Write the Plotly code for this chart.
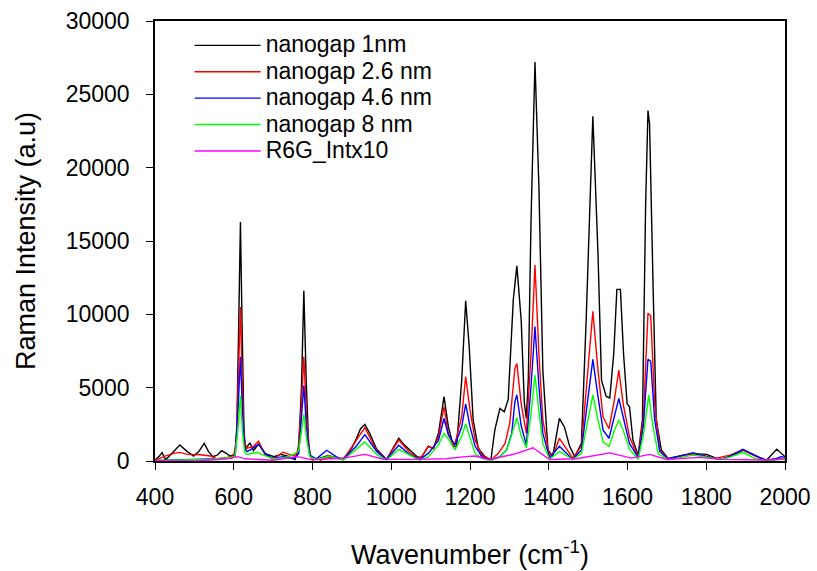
import plotly.graph_objects as go

# ---------------- data ----------------
x_1nm = [400, 410, 418, 427, 439, 463, 482, 498, 511, 525, 536, 547, 558, 569, 581, 591, 604,
         608, 613, 617, 621, 626, 630, 641, 650, 663, 680, 702, 719, 735, 756, 765, 772, 778, 784,
         790, 795, 810, 836, 844, 878, 900, 911, 922, 933, 945, 963, 988, 1005, 1019, 1033, 1046,
         1065, 1077, 1094, 1107, 1120, 1134, 1145, 1158, 1166, 1179, 1189, 1198, 1208, 1221, 1238,
         1253, 1263, 1276, 1287, 1297, 1305, 1310, 1319, 1330, 1338, 1343, 1348, 1355, 1365, 1375,
         1385, 1398, 1410, 1427, 1440, 1453, 1466, 1483, 1495, 1512, 1525, 1534, 1546, 1555, 1565,
         1573, 1582, 1590, 1599, 1605, 1614, 1627, 1638, 1646, 1652, 1656, 1665, 1673, 1686, 1703,
         1741, 1767, 1801, 1835, 1860, 1894, 1920, 1953, 1979, 2000]
y_1nm = [80, 300, 570, 80, 410, 1090, 640, 340, 640, 1200, 640, 300, 400, 700, 520, 340, 450,
         2500, 10000, 16300, 9500, 2000, 800, 1250, 700, 1150, 500, 290, 450, 340, 100, 1000, 5000, 11600, 5500,
         1200, 300, 100, 350, 340, 100, 900, 1500, 2200, 2500, 1900, 800, 100, 900, 1550, 1100, 800,
         300, 250, 1020, 850, 1890, 4390, 2340, 980, 1000, 5520, 10930, 7800, 2800, 860, 300,
         70, 2100, 3590, 3360, 4200, 8500, 11000, 13300, 9600, 4000, 2900, 5500, 16400, 27200, 18700,
         6200, 750, 300, 2900, 2300, 1000, 300, 1200, 9600, 23500, 14200, 5500, 4400, 4300, 7300,
         11700, 11700, 7300, 3900, 3700, 1400, 400, 2800, 17400, 23900, 23000, 11900, 2800, 750, 180,
         400, 500, 450, 100, 300, 750, 400, 60, 800, 300]

x_2p6nm = [400, 422, 448, 463, 482, 515, 541, 558, 583, 600, 607, 612, 617, 621, 626, 633, 651, 663,
           680, 700, 725, 751, 763, 770, 778, 785, 793, 807, 827, 844, 878, 911, 933, 963, 988, 1019,
           1046, 1072, 1094, 1107, 1120, 1134, 1145, 1160, 1179, 1189, 1200, 1213, 1230, 1253, 1272,
           1289, 1301, 1314, 1319, 1330, 1343, 1355, 1365, 1375, 1385, 1402, 1415, 1427, 1440, 1461,
           1483, 1500, 1512, 1525, 1538, 1553, 1565, 1578, 1589, 1605, 1627, 1640, 1652, 1659, 1669,
           1682, 1703, 1767, 1783, 1826, 1860, 1893, 1928, 1952, 1987, 2000]
y_2p6nm = [50, 300, 520, 590, 450, 430, 340, 150, 250, 340, 1500, 6000, 10500, 6000, 1500, 860, 1020, 1350,
           400, 130, 600, 350, 600, 3000, 7100, 3000, 400, -230, 150, 250, 100, 1400, 2270, 700, 100, 1430,
           600, 100, 980, 850, 1660, 3700, 1800, 1000, 3020, 5750, 3480, 1430, 400, 70, 520,
           1200, 2570, 6320, 6650, 3900, 1900, 7300, 13370, 7300, 2800, 300, 650, 1550, 1000, 200,
           1000, 6200, 10200, 6200, 3000, 2200, 3900, 6200, 3900, 1650, 300, 2800, 10070, 9900, 3900,
           750, 130, 500, 410, 200, 400, 750, 300, -45, 200, 100]

x_4p6nm = [400, 482, 536, 591, 603, 610, 617, 622, 628, 634, 650, 663, 680, 697, 727, 752, 765, 771,
           778, 785, 793, 810, 836, 860, 878, 911, 933, 963, 988, 1019, 1046, 1072, 1094, 1120, 1134,
           1145, 1162, 1179, 1189, 1200, 1213, 1230, 1253, 1276, 1293, 1306, 1314, 1319, 1330, 1343,
           1355, 1365, 1375, 1385, 1402, 1427, 1440, 1461, 1483, 1500, 1512, 1525, 1538, 1553, 1567,
           1578, 1589, 1605, 1627, 1640, 1652, 1659, 1669, 1682, 1703, 1767, 1783, 1834, 1859, 1893,
           1935, 1952, 1975, 1990, 2000]
y_4p6nm = [30, 100, 180, 180, 300, 3000, 7100, 3500, 800, 640, 900, 1150, 500, 200, 300, 150, 500, 2500,
           5150, 2200, 400, 150, 730, 300, 100, 1000, 1800, 650, 100, 1070, 450, 100, 520, 1400, 2900,
           1800, 1090, 2330, 3890, 2360, 1000, 300, 50, 300, 750, 1890, 4050, 4500, 2400, 1100,
           5100, 9160, 5100, 1900, 200, 1000, 650, 100, 750, 4400, 6930, 4400, 2100, 1550, 3200,
           4270, 3000, 1200, 250, 2300, 6930, 6800, 2800, 650, 130, 570, 410, 110, 300, 800,
           250, 50, 150, 300, 250]

x_8nm = [400, 482, 536, 591, 603, 610, 617, 622, 628, 634, 659, 680, 702, 727, 752, 765, 771, 778,
         785, 793, 810, 844, 878, 911, 933, 963, 988, 1019, 1046, 1072, 1094, 1120, 1134, 1145, 1162,
         1179, 1189, 1200, 1213, 1230, 1253, 1276, 1293, 1306, 1319, 1330, 1343, 1355, 1365, 1375,
         1385, 1402, 1427, 1440, 1461, 1483, 1500, 1512, 1525, 1538, 1553, 1567, 1578, 1589, 1605,
         1627, 1640, 1654, 1665, 1678, 1703, 1767, 1783, 1834, 1859, 1893, 1925, 1952, 1975, 2000]
y_8nm = [30, 100, 100, 250, 300, 2000, 4430, 2000, 600, 450, 590, 350, 150, 200, 450, 700, 1800, 3180,
         1500, 300, 100, 340, 50, 800, 1300, 450, 50, 800, 400, 50, 280, 1100, 1890, 1500, 750,
         1700, 2520, 1650, 500, 180, 20, 300, 750, 1800, 2950, 1700, 900, 3200, 5860, 3400,
         1200, 120, 640, 450, 100, 500, 2800, 4500, 2800, 1300, 1000, 2100, 2800, 2100, 800,
         120, 1700, 4500, 2300, 500, 80, 400, 340, 110, 250, 590, 150, 0, 70, 180]

x_r6g = [400, 500, 560, 591, 610, 630, 700, 762, 800, 880, 933, 980, 1060, 1140, 1187, 1213, 1249,
         1317, 1360, 1402, 1470, 1555, 1610, 1656, 1700, 1783, 1834, 1893, 1952, 2000]
y_r6g = [20, 0, 100, 180, 300, 150, 50, 300, 80, 200, 450, 120, 110, 150, 300, 340, 100,
         500, 900, 100, 150, 550, 200, 450, 100, 250, 110, 110, 70, 130]

series_names = ["nanogap 1nm", "nanogap 2.6 nm", "nanogap 4.6 nm", "nanogap 8 nm", "R6G_Intx10"]
series_x = [x_1nm, x_2p6nm, x_4p6nm, x_8nm, x_r6g]
series_y = [y_1nm, y_2p6nm, y_4p6nm, y_8nm, y_r6g]
series_colors = ["#000000", "#FF0000", "#0000FF", "#00FF00", "#FF00FF"]

x_ticks = [400, 600, 800, 1000, 1200, 1400, 1600, 1800, 2000]
y_ticks = [0, 5000, 10000, 15000, 20000, 25000, 30000]

FONT = "Arial, Liberation Sans, sans-serif"

fig = go.Figure()
for name, xs, ys, col in zip(series_names, series_x, series_y, series_colors):
    fig.add_trace(go.Scatter(
        x=xs, y=ys, mode="lines",
        name='<span style="font-size:23px">' + name + '</span>',
        line=dict(color=col, width=1.4),
    ))

fig.update_layout(
    width=817, height=571,
    margin=dict(l=154.5, r=31.5, t=21, b=110, autoexpand=False),
    paper_bgcolor="white", plot_bgcolor="white",
    font=dict(family=FONT, color="black"),
    showlegend=True,
    legend=dict(
        x=0.055, y=0.986, xanchor="left", yanchor="top",
        bgcolor="rgba(0,0,0,0)", borderwidth=0,
        font=dict(family=FONT, size=18, color="black"),
        itemwidth=66,
    ),
    xaxis=dict(
        range=[400, 2000], tickvals=x_ticks, ticktext=[str(v) for v in x_ticks],
        showgrid=False, zeroline=False, automargin=False,
        showline=True, linecolor="black", linewidth=1.5, mirror=True,
        ticks="outside", ticklen=7, tickwidth=1, tickcolor="black",
        tickfont=dict(family=FONT, size=23, color="black"),
        ticklabelstandoff=8,
        title=dict(text="Wavenumber (cm<sup>-1</sup>)",
                   font=dict(family=FONT, size=27, color="black"), standoff=36),
    ),
    yaxis=dict(
        range=[0, 30000], tickvals=y_ticks, ticktext=[str(v) for v in y_ticks],
        showgrid=False, zeroline=False, automargin=False,
        showline=True, linecolor="black", linewidth=1.5, mirror=True,
        ticks="outside", ticklen=7, tickwidth=1, tickcolor="black",
        tickfont=dict(family=FONT, size=23, color="black"),
        ticklabelstandoff=12,
        title=dict(text="Raman Intensity (a.u)",
                   font=dict(family=FONT, size=27, color="black"), standoff=22),
    ),
)

fig.write_html("out.html")
